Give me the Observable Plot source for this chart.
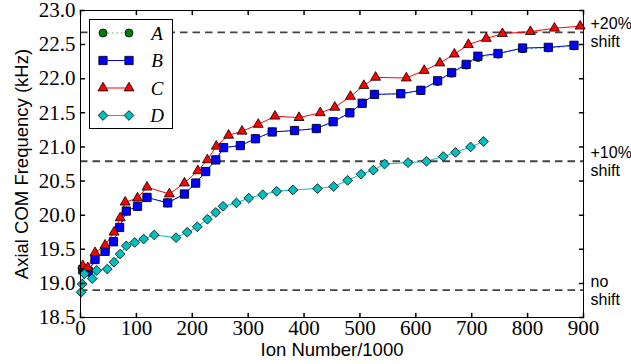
<!DOCTYPE html>
<html><head><meta charset="utf-8">
<script src="https://cdn.jsdelivr.net/npm/d3@7"></script>
<script src="https://cdn.jsdelivr.net/npm/@observablehq/plot@0.6"></script>
<style>body{margin:0;background:#fff}</style>
</head><body><div id="chart"></div>
<script>
const seriesNames = ["A", "B", "C", "D"];
const xTicks = [0, 100, 200, 300, 400, 500, 600, 700, 800, 900];
const yTicks = [18.5, 19.0, 19.5, 20.0, 20.5, 21.0, 21.5, 22.0, 22.5, 23.0];
const refLevels = [18.9, 20.79, 22.68];
const refLabels = ["no\nshift", "+10%\nshift", "+20%\nshift"];
const xLabel = "Ion Number/1000";
const yLabel = "Axial COM Frequency (kHz)";

const seriesA = [[4,19.2],[14,19.17],[26,19.35],[44,19.47],[59,19.61],[70,19.82],[82,20.06],[102,20.13],[119,20.26],[156,20.18],[186,20.31],[206,20.47],[224,20.64],[242,20.81],[256,20.99],[286,21.02],[313,21.12],[343,21.22],[383,21.24],[422,21.27],[452,21.37],[482,21.5],[504,21.64],[526,21.77],[573,21.78],[609,21.83],[639,21.96],[664,22.08],[690,22.2],[711,22.31],[747,22.36],[791,22.44],[837,22.45],[883,22.48]];
const seriesB = [[4,19.2],[14,19.17],[26,19.35],[44,19.47],[59,19.61],[70,19.82],[82,20.06],[102,20.13],[119,20.26],[156,20.18],[186,20.31],[206,20.47],[224,20.64],[242,20.81],[256,20.99],[286,21.02],[313,21.12],[343,21.22],[383,21.24],[422,21.27],[452,21.37],[482,21.5],[504,21.64],[526,21.77],[573,21.78],[609,21.83],[639,21.97],[664,22.09],[690,22.21],[711,22.33],[747,22.37],[791,22.45],[837,22.46],[883,22.49]];
const seriesC = [[4,19.26],[13,19.23],[26,19.45],[44,19.56],[60,19.75],[71,19.96],[80,20.19],[102,20.25],[119,20.41],[159,20.31],[186,20.47],[210,20.65],[227,20.81],[243,21.01],[265,21.17],[289,21.23],[318,21.33],[348,21.45],[391,21.43],[429,21.5],[455,21.58],[483,21.74],[507,21.9],[528,22.02],[583,22.01],[615,22.12],[643,22.23],[669,22.36],[694,22.5],[726,22.59],[755,22.66],[805,22.69],[848,22.74],[894,22.77]];
const seriesD = [[1,18.87],[3,18.99],[7,19.14],[21,19.07],[29,19.19],[48,19.21],[60,19.31],[71,19.43],[82,19.55],[97,19.6],[113,19.65],[132,19.71],[171,19.67],[191,19.75],[209,19.83],[227,19.94],[242,20.04],[255,20.13],[279,20.18],[301,20.25],[326,20.3],[351,20.35],[380,20.37],[424,20.39],[453,20.42],[478,20.51],[502,20.6],[524,20.66],[544,20.75],[586,20.77],[619,20.79],[649,20.86],[671,20.92],[698,21.0],[721,21.08]];

const styles = {
  A: {line: "#55bb55", dash: "1.5,3", fill: "#008000", symbol: "circle", r: 4},
  B: {line: "#0000ff", dash: null, fill: "#0000ff", symbol: "square", r: 4.7},
  C: {line: "#ff0000", dash: null, fill: "#ff0000", symbol: "triangle", r: 3.7},
  D: {line: "#00bfbf", dash: null, fill: "#00bfbf", symbol: "diamond2", r: 4.4}
};
const seriesData = {A: seriesA, B: seriesB, C: seriesC, D: seriesD};

const serif = "'Liberation Serif', 'DejaVu Serif', serif";
const sans = "'Liberation Sans', Arial, sans-serif";
const tickShape = {draw(context, l) { context.moveTo(0, 0); context.lineTo(0, -l); }};

const marks = [
  Plot.ruleY(refLevels, {y: d => d, stroke: "#444", strokeWidth: 1.8, strokeDasharray: "7.5,5"}),
];
for (const name of seriesNames) {
  const s = styles[name];
  marks.push(Plot.line(seriesData[name], {x: d => d[0], y: d => d[1], stroke: s.line, strokeWidth: 1, strokeDasharray: s.dash}));
}
for (const name of seriesNames) {
  const s = styles[name];
  marks.push(Plot.dot(seriesData[name], {x: d => d[0], y: d => d[1], symbol: s.symbol, r: s.r, fill: s.fill, stroke: "#000", strokeWidth: 0.8}));
}
marks.push(
  Plot.frame({stroke: "#000", strokeWidth: 1}),
  Plot.vector(xTicks, {x: d => d, y: yTicks[0], length: 4, rotate: 0, anchor: "start", shape: tickShape, stroke: "#000"}),
  Plot.vector(xTicks, {x: d => d, y: yTicks[yTicks.length - 1], length: 4, rotate: 180, anchor: "start", shape: tickShape, stroke: "#000"}),
  Plot.vector(yTicks, {y: d => d, x: xTicks[0], length: 4, rotate: 90, anchor: "start", shape: tickShape, stroke: "#000"}),
  Plot.vector(yTicks, {y: d => d, x: xTicks[xTicks.length - 1], length: 4, rotate: -90, anchor: "start", shape: tickShape, stroke: "#000"}),
  Plot.text(xTicks, {x: d => d, frameAnchor: "bottom", dy: 3, text: d => String(d), textAnchor: "middle", lineAnchor: "top", fontSize: 21, fontFamily: serif, fill: "#000"}),
  Plot.text(yTicks, {y: d => d, frameAnchor: "left", dx: -5, text: d3.format(".1f"), textAnchor: "end", lineAnchor: "middle", fontSize: 21, fontFamily: serif, fill: "#000"}),
  Plot.text(refLevels, {y: d => d, frameAnchor: "right", dx: 7, text: (d, i) => refLabels[i], textAnchor: "start", lineAnchor: "middle", lineHeight: 1.12, fontSize: 16, fontFamily: sans, fill: "#000"}),
  Plot.text([yLabel], {frameAnchor: "left", rotate: -90, dx: -58, text: d => d, textAnchor: "middle", lineAnchor: "middle", fontSize: 18.5, fontFamily: sans, fill: "#000"}),
  Plot.text([xLabel], {frameAnchor: "bottom", dy: 33, text: d => d, textAnchor: "middle", lineAnchor: "middle", fontSize: 18.5, fontFamily: sans, fill: "#000"})
);

const chart = Plot.plot({
  width: 631, height: 364,
  marginLeft: 80, marginRight: 48, marginTop: 10, marginBottom: 47,
  x: {domain: [0, 900], axis: null},
  y: {domain: [18.5, 23], axis: null},
  style: {background: "#fff", color: "#000", overflow: "visible"},
  marks
});

const svg = d3.select(chart);

// legend
const lg = svg.append("g");
lg.append("rect").attr("x", 89.5).attr("y", 19.5).attr("width", 83).attr("height", 109)
  .attr("fill", "#fff").attr("stroke", "#000").attr("stroke-width", 1);
const symMap = {circle: d3.symbolCircle, square: d3.symbolSquare, triangle: d3.symbolTriangle, diamond2: d3.symbolDiamond2};
seriesNames.forEach((name, i) => {
  const s = styles[name];
  const yy = 33 + i * 27.5;
  lg.append("line").attr("x1", 103).attr("x2", 129).attr("y1", yy).attr("y2", yy)
    .attr("stroke", s.line).attr("stroke-width", 1).attr("stroke-dasharray", s.dash);
  const path = d3.symbol(symMap[s.symbol], Math.PI * s.r * s.r)();
  for (const xx of [103, 129]) {
    lg.append("path").attr("d", path).attr("transform", `translate(${xx},${yy})`)
      .attr("fill", s.fill).attr("stroke", "#000").attr("stroke-width", 0.8);
  }
  lg.append("text").attr("x", 157).attr("y", yy).attr("dy", "0.35em").attr("text-anchor", "middle")
    .style("font-family", serif).attr("font-style", "italic").attr("font-size", 19).attr("fill", "#000").text(name);
});

document.getElementById("chart").appendChild(chart);
</script>
</body></html>
